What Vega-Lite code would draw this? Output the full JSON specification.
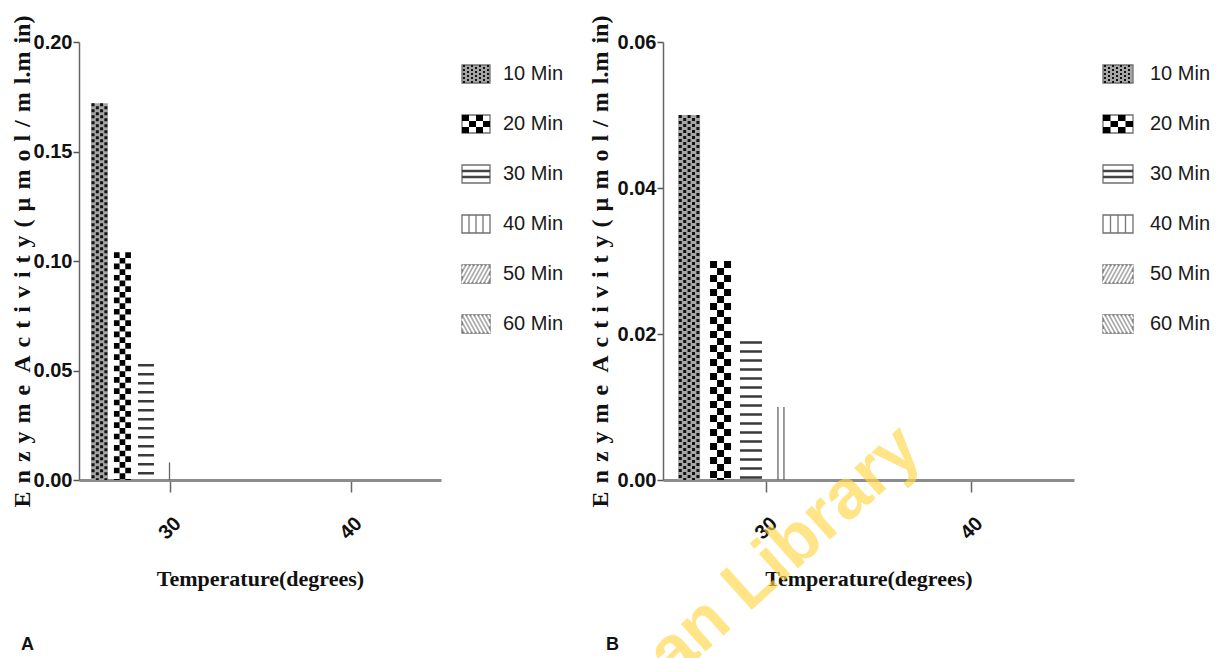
{
  "$schema": "https://vega.github.io/schema/vega-lite/v6.json",
  "background": "white",
  "padding": {"left": 10, "top": 15, "right": 0, "bottom": 0},
  "config": {"view": {"stroke": null}, "axis": {"zindex": 1}},
  "datasets": {
    "panelA": [
      {"time": "10 Min", "temperature": 26.13, "activity": 0.172},
      {"time": "20 Min", "temperature": 27.4, "activity": 0.104},
      {"time": "30 Min", "temperature": 28.7, "activity": 0.053},
      {"time": "40 Min", "temperature": 30.0, "activity": 0.008},
      {"time": "50 Min", "temperature": 31.3, "activity": 0},
      {"time": "60 Min", "temperature": 32.6, "activity": 0}
    ],
    "panelB": [
      {"time": "10 Min", "temperature": 26.27, "activity": 0.05},
      {"time": "20 Min", "temperature": 27.8, "activity": 0.03},
      {"time": "30 Min", "temperature": 29.28, "activity": 0.019},
      {"time": "40 Min", "temperature": 30.74, "activity": 0.01},
      {"time": "50 Min", "temperature": 32.2, "activity": 0},
      {"time": "60 Min", "temperature": 33.7, "activity": 0}
    ],
    "tagA": [{"tag": "A"}],
    "tagB": [{"tag": "B"}],
    "stamp": [{"words": "an Library"}]
  },
  "resolve": {"scale": {"x": "independent", "y": "independent"}},
  "spacing": 24,
  "hconcat": [
    {
      "spacing": 10,
      "resolve": {"scale": {"x": "independent", "y": "independent"}},
      "hconcat": [
        {
          "width": 362,
          "height": 438,
          "layer": [
            {
              "data": {"name": "panelA"},
              "encoding": {
                "x": {
                  "field": "temperature", "type": "quantitative", "title": "Temperature(degrees)",
                  "scale": {"domain": [25, 45], "nice": false, "zero": false},
                  "axis": {
                    "values": [30, 40], "format": "d", "grid": false,
                    "labelAngle": -45, "labelAlign": "center", "labelBaseline": "middle", "labelPadding": 36,
                    "labelFont": "Liberation Sans", "labelFontSize": 20, "labelFontWeight": "bold", "labelColor": "#111",
                    "tickSize": 12, "tickWidth": 1.5, "tickColor": "#666",
                    "domainColor": "#8c8c8c", "domainWidth": 3,
                    "titleFont": "Liberation Serif", "titleFontSize": 22, "titleFontWeight": "bold",
                    "titleColor": "#111", "titlePadding": 26
                  }
                },
                "y": {
                  "field": "activity", "type": "quantitative",
                  "title": "E\u2004n\u2004z\u2004y\u2004m\u2004e\u2002A\u2004c\u2004t\u2004i\u2004v\u2004i\u2004t\u2004y\u2004(\u2004µ\u2004m\u2004o\u2004l\u2004/\u2004m\u2004l.m\u2004in)",
                  "scale": {"domain": [0, 0.2], "nice": false},
                  "axis": {
                    "values": [0, 0.05, 0.1, 0.15, 0.2], "format": ".2f", "grid": false,
                    "labelFont": "Liberation Sans", "labelFontSize": 20, "labelFontWeight": "bold", "labelColor": "#111", "labelPadding": 1,
                    "tickSize": 6, "tickWidth": 1.5, "tickColor": "#555",
                    "domainColor": "#666", "domainWidth": 1.5,
                    "titleFont": "Liberation Serif", "titleFontSize": 24, "titleFontWeight": "bold",
                    "titleColor": "#111", "titlePadding": -1
                  }
                }
              },
              "layer": [
                {"transform": [{"filter": "datum.time === '10 Min'"}], "mark": {"type": "rule", "strokeWidth": 17, "stroke": "#a6a6a6"}, "encoding": {"y2": {"datum": 0}}},
                {"transform": [{"filter": "datum.time === '10 Min'"}], "mark": {"type": "rule", "strokeWidth": 3, "stroke": "#111", "strokeDash": [3, 3], "strokeDashOffset": 0, "xOffset": -6.4}, "encoding": {"y2": {"datum": 0}}},
                {"transform": [{"filter": "datum.time === '10 Min'"}], "mark": {"type": "rule", "strokeWidth": 3, "stroke": "#111", "strokeDash": [3, 3], "strokeDashOffset": 3, "xOffset": -2.13}, "encoding": {"y2": {"datum": 0}}},
                {"transform": [{"filter": "datum.time === '10 Min'"}], "mark": {"type": "rule", "strokeWidth": 3, "stroke": "#111", "strokeDash": [3, 3], "strokeDashOffset": 0, "xOffset": 2.13}, "encoding": {"y2": {"datum": 0}}},
                {"transform": [{"filter": "datum.time === '10 Min'"}], "mark": {"type": "rule", "strokeWidth": 3, "stroke": "#111", "strokeDash": [3, 3], "strokeDashOffset": 3, "xOffset": 6.4}, "encoding": {"y2": {"datum": 0}}},
                {"transform": [{"filter": "datum.time === '20 Min'"}], "mark": {"type": "rule", "strokeWidth": 5.67, "stroke": "#000", "strokeDash": [5.67, 5.67], "strokeDashOffset": 0, "xOffset": -5.67}, "encoding": {"y2": {"datum": 0}}},
                {"transform": [{"filter": "datum.time === '20 Min'"}], "mark": {"type": "rule", "strokeWidth": 5.67, "stroke": "#000", "strokeDash": [5.67, 5.67], "strokeDashOffset": 5.67, "xOffset": 0}, "encoding": {"y2": {"datum": 0}}},
                {"transform": [{"filter": "datum.time === '20 Min'"}], "mark": {"type": "rule", "strokeWidth": 5.67, "stroke": "#000", "strokeDash": [5.67, 5.67], "strokeDashOffset": 0, "xOffset": 5.67}, "encoding": {"y2": {"datum": 0}}},
                {"transform": [{"filter": "datum.time === '30 Min'"}], "mark": {"type": "rule", "strokeWidth": 16, "stroke": "#3a3a3a", "strokeDash": [2.5, 6.5]}, "encoding": {"y2": {"datum": 0}}},
                {"transform": [{"filter": "datum.time === '40 Min'"}], "mark": {"type": "rule", "strokeWidth": 1.3, "stroke": "#666"}, "encoding": {"y2": {"datum": 0}}}
              ]
            },
            {
              "data": {"name": "tagA"},
              "mark": {"type": "text", "align": "left", "baseline": "alphabetic", "font": "Liberation Sans", "fontSize": 18, "fontWeight": "bold", "fill": "#111"},
              "encoding": {
                "x": {"datum": 21.8, "type": "quantitative", "title": "Temperature(degrees)"},
                "y": {"datum": -0.0776, "type": "quantitative", "title": "E\u2004n\u2004z\u2004y\u2004m\u2004e\u2002A\u2004c\u2004t\u2004i\u2004v\u2004i\u2004t\u2004y\u2004(\u2004µ\u2004m\u2004o\u2004l\u2004/\u2004m\u2004l.m\u2004in)"},
                "text": {"field": "tag", "type": "nominal"}
              }
            }
          ]
        },
        {
          "width": 28,
          "height": 350,
          "data": {"name": "panelA"},
          "encoding": {"y": {"field": "time", "type": "nominal", "axis": null, "scale": {"padding": 1, "align": 0.32}}},
          "layer": [
            {"mark": {"type": "point", "shape": "M-1,-0.643H1V0.643H-1Z", "size": 784, "filled": true, "opacity": 1, "stroke": "#707070", "strokeWidth": 1.3},
             "encoding": {"fill": {"field": "time", "type": "nominal", "legend": null, "scale": {"range": ["#a6a6a6", "#ffffff", "#ffffff", "#ffffff", "#a9a9a9", "#a9a9a9"]}}}},
            {"transform": [{"filter": "datum.time === '10 Min'"}], "mark": {"type": "point", "shape": "M-0.857,-0.643V0.643M-0.571,-0.5V0.643M-0.286,-0.643V0.643M0,-0.5V0.643M0.286,-0.643V0.643M0.571,-0.5V0.643M0.857,-0.643V0.643", "size": 784, "filled": false, "opacity": 1, "stroke": "#111", "strokeWidth": 2, "strokeDash": [2, 2]}},
            {"transform": [{"filter": "datum.time === '20 Min'"}], "mark": {"type": "point", "shape": "M-0.75,-0.643V0.643M-0.25,-0.214V0.643M0.25,-0.643V0.643M0.75,-0.214V0.643", "size": 784, "filled": false, "opacity": 1, "stroke": "#000", "strokeWidth": 7, "strokeDash": [6, 6]}},
            {"transform": [{"filter": "datum.time === '30 Min'"}], "mark": {"type": "point", "shape": "M-1,-0.214H1M-1,0.214H1", "size": 784, "filled": false, "opacity": 1, "stroke": "#444", "strokeWidth": 2.5}},
            {"transform": [{"filter": "datum.time === '40 Min'"}], "mark": {"type": "point", "shape": "M-0.5,-0.643V0.643M0,-0.643V0.643M0.5,-0.643V0.643", "size": 784, "filled": false, "opacity": 1, "stroke": "#777", "strokeWidth": 1.3}},
            {"transform": [{"filter": "datum.time === '50 Min'"}], "mark": {"type": "point", "shape": "M-1,-0.386L-0.857,-0.643M-1,0.129L-0.571,-0.643M-1,0.643L-0.286,-0.643M-0.714,0.643L0,-0.643M-0.429,0.643L0.286,-0.643M-0.143,0.643L0.571,-0.643M0.143,0.643L0.857,-0.643M0.429,0.643L1,-0.386M0.714,0.643L1,0.129", "size": 784, "filled": false, "opacity": 1, "stroke": "#ffffff", "strokeWidth": 1.8}},
            {"transform": [{"filter": "datum.time === '60 Min'"}], "mark": {"type": "point", "shape": "M1,-0.386L0.857,-0.643M1,0.129L0.571,-0.643M1,0.643L0.286,-0.643M0.714,0.643L0,-0.643M0.429,0.643L-0.286,-0.643M0.143,0.643L-0.571,-0.643M-0.143,0.643L-0.857,-0.643M-0.429,0.643L-1,-0.386M-0.714,0.643L-1,0.129", "size": 784, "filled": false, "opacity": 1, "stroke": "#ffffff", "strokeWidth": 1.8}},
            {"mark": {"type": "text", "align": "left", "baseline": "middle", "dx": 27, "font": "Liberation Sans", "fontSize": 20, "fill": "#1a1a1a"},
             "encoding": {"text": {"field": "time", "type": "nominal"}}}
          ]
        }
      ]
    },
    {
      "spacing": 17,
      "resolve": {"scale": {"x": "independent", "y": "independent"}},
      "hconcat": [
        {
          "width": 411,
          "height": 438,
          "layer": [
            {
              "data": {"name": "stamp"},
              "mark": {"type": "text", "align": "left", "baseline": "alphabetic", "angle": -42, "font": "Liberation Sans", "fontSize": 70, "fontWeight": "bold", "fill": "#ffd84a", "opacity": 0.65},
              "encoding": {
                "x": {"datum": 25.49, "type": "quantitative", "title": "Temperature(degrees)"},
                "y": {"datum": -0.0275, "type": "quantitative", "title": "E\u2004n\u2004z\u2004y\u2004m\u2004e\u2002A\u2004c\u2004t\u2004i\u2004v\u2004i\u2004t\u2004y\u2004(\u2004µ\u2004m\u2004o\u2004l\u2004/\u2004m\u2004l.m\u2004in)"},
                "text": {"field": "words", "type": "nominal"}
              }
            },
            {
              "data": {"name": "panelB"},
              "encoding": {
                "x": {
                  "field": "temperature", "type": "quantitative", "title": "Temperature(degrees)",
                  "scale": {"domain": [25, 45], "nice": false, "zero": false},
                  "axis": {
                    "values": [30, 40], "format": "d", "grid": false,
                    "labelAngle": -45, "labelAlign": "center", "labelBaseline": "middle", "labelPadding": 36,
                    "labelFont": "Liberation Sans", "labelFontSize": 20, "labelFontWeight": "bold", "labelColor": "#111",
                    "tickSize": 12, "tickWidth": 1.5, "tickColor": "#666",
                    "domainColor": "#8c8c8c", "domainWidth": 3,
                    "titleFont": "Liberation Serif", "titleFontSize": 22, "titleFontWeight": "bold",
                    "titleColor": "#111", "titlePadding": 26
                  }
                },
                "y": {
                  "field": "activity", "type": "quantitative",
                  "title": "E\u2004n\u2004z\u2004y\u2004m\u2004e\u2002A\u2004c\u2004t\u2004i\u2004v\u2004i\u2004t\u2004y\u2004(\u2004µ\u2004m\u2004o\u2004l\u2004/\u2004m\u2004l.m\u2004in)",
                  "scale": {"domain": [0, 0.06], "nice": false},
                  "axis": {
                    "values": [0, 0.02, 0.04, 0.06], "format": ".2f", "grid": false,
                    "labelFont": "Liberation Sans", "labelFontSize": 20, "labelFontWeight": "bold", "labelColor": "#111", "labelPadding": 1,
                    "tickSize": 6, "tickWidth": 1.5, "tickColor": "#555",
                    "domainColor": "#666", "domainWidth": 1.5,
                    "titleFont": "Liberation Serif", "titleFontSize": 24, "titleFontWeight": "bold",
                    "titleColor": "#111", "titlePadding": 5
                  }
                }
              },
              "layer": [
                {"transform": [{"filter": "datum.time === '10 Min'"}], "mark": {"type": "rule", "strokeWidth": 22, "stroke": "#a6a6a6"}, "encoding": {"y2": {"datum": 0}}},
                {"transform": [{"filter": "datum.time === '10 Min'"}], "mark": {"type": "rule", "strokeWidth": 3, "stroke": "#111", "strokeDash": [3, 3], "strokeDashOffset": 0, "xOffset": -8.8}, "encoding": {"y2": {"datum": 0}}},
                {"transform": [{"filter": "datum.time === '10 Min'"}], "mark": {"type": "rule", "strokeWidth": 3, "stroke": "#111", "strokeDash": [3, 3], "strokeDashOffset": 3, "xOffset": -4.4}, "encoding": {"y2": {"datum": 0}}},
                {"transform": [{"filter": "datum.time === '10 Min'"}], "mark": {"type": "rule", "strokeWidth": 3, "stroke": "#111", "strokeDash": [3, 3], "strokeDashOffset": 0, "xOffset": 0}, "encoding": {"y2": {"datum": 0}}},
                {"transform": [{"filter": "datum.time === '10 Min'"}], "mark": {"type": "rule", "strokeWidth": 3, "stroke": "#111", "strokeDash": [3, 3], "strokeDashOffset": 3, "xOffset": 4.4}, "encoding": {"y2": {"datum": 0}}},
                {"transform": [{"filter": "datum.time === '10 Min'"}], "mark": {"type": "rule", "strokeWidth": 3, "stroke": "#111", "strokeDash": [3, 3], "strokeDashOffset": 0, "xOffset": 8.8}, "encoding": {"y2": {"datum": 0}}},
                {"transform": [{"filter": "datum.time === '20 Min'"}], "mark": {"type": "rule", "strokeWidth": 7, "stroke": "#000", "strokeDash": [7, 7], "strokeDashOffset": 0, "xOffset": -7}, "encoding": {"y2": {"datum": 0}}},
                {"transform": [{"filter": "datum.time === '20 Min'"}], "mark": {"type": "rule", "strokeWidth": 7, "stroke": "#000", "strokeDash": [7, 7], "strokeDashOffset": 7, "xOffset": 0}, "encoding": {"y2": {"datum": 0}}},
                {"transform": [{"filter": "datum.time === '20 Min'"}], "mark": {"type": "rule", "strokeWidth": 7, "stroke": "#000", "strokeDash": [7, 7], "strokeDashOffset": 0, "xOffset": 7}, "encoding": {"y2": {"datum": 0}}},
                {"transform": [{"filter": "datum.time === '30 Min'"}], "mark": {"type": "rule", "strokeWidth": 22, "stroke": "#3a3a3a", "strokeDash": [2.5, 6.5]}, "encoding": {"y2": {"datum": 0}}},
                {"transform": [{"filter": "datum.time === '40 Min'"}], "mark": {"type": "rule", "strokeWidth": 1.3, "stroke": "#666", "xOffset": -3}, "encoding": {"y2": {"datum": 0}}},
                {"transform": [{"filter": "datum.time === '40 Min'"}], "mark": {"type": "rule", "strokeWidth": 1.3, "stroke": "#666", "xOffset": 3}, "encoding": {"y2": {"datum": 0}}}
              ]
            },
            {
              "data": {"name": "tagB"},
              "mark": {"type": "text", "align": "left", "baseline": "alphabetic", "font": "Liberation Sans", "fontSize": 18, "fontWeight": "bold", "fill": "#111"},
              "encoding": {
                "x": {"datum": 22.23, "type": "quantitative", "title": "Temperature(degrees)"},
                "y": {"datum": -0.0233, "type": "quantitative", "title": "E\u2004n\u2004z\u2004y\u2004m\u2004e\u2002A\u2004c\u2004t\u2004i\u2004v\u2004i\u2004t\u2004y\u2004(\u2004µ\u2004m\u2004o\u2004l\u2004/\u2004m\u2004l.m\u2004in)"},
                "text": {"field": "tag", "type": "nominal"}
              }
            }
          ]
        },
        {
          "width": 30,
          "height": 350,
          "data": {"name": "panelB"},
          "encoding": {"y": {"field": "time", "type": "nominal", "axis": null, "scale": {"padding": 1, "align": 0.32}}},
          "layer": [
            {"mark": {"type": "point", "shape": "M-1,-0.6H1V0.6H-1Z", "size": 900, "filled": true, "opacity": 1, "stroke": "#707070", "strokeWidth": 1.3},
             "encoding": {"fill": {"field": "time", "type": "nominal", "legend": null, "scale": {"range": ["#a6a6a6", "#ffffff", "#ffffff", "#ffffff", "#a9a9a9", "#a9a9a9"]}}}},
            {"transform": [{"filter": "datum.time === '10 Min'"}], "mark": {"type": "point", "shape": "M-0.867,-0.6V0.6M-0.6,-0.467V0.6M-0.333,-0.6V0.6M-0.067,-0.467V0.6M0.2,-0.6V0.6M0.467,-0.467V0.6M0.733,-0.6V0.6", "size": 900, "filled": false, "opacity": 1, "stroke": "#111", "strokeWidth": 2, "strokeDash": [2, 2]}},
            {"transform": [{"filter": "datum.time === '20 Min'"}], "mark": {"type": "point", "shape": "M-0.75,-0.6V0.6M-0.25,-0.2V0.6M0.25,-0.6V0.6M0.75,-0.2V0.6", "size": 900, "filled": false, "opacity": 1, "stroke": "#000", "strokeWidth": 7.5, "strokeDash": [6, 6]}},
            {"transform": [{"filter": "datum.time === '30 Min'"}], "mark": {"type": "point", "shape": "M-1,-0.2H1M-1,0.2H1", "size": 900, "filled": false, "opacity": 1, "stroke": "#444", "strokeWidth": 2.5}},
            {"transform": [{"filter": "datum.time === '40 Min'"}], "mark": {"type": "point", "shape": "M-0.5,-0.6V0.6M0,-0.6V0.6M0.5,-0.6V0.6", "size": 900, "filled": false, "opacity": 1, "stroke": "#777", "strokeWidth": 1.3}},
            {"transform": [{"filter": "datum.time === '50 Min'"}], "mark": {"type": "point", "shape": "M-1,-0.36L-0.867,-0.6M-1,0.12L-0.6,-0.6M-1,0.6L-0.333,-0.6M-0.733,0.6L-0.067,-0.6M-0.467,0.6L0.2,-0.6M-0.2,0.6L0.467,-0.6M0.067,0.6L0.733,-0.6M0.333,0.6L1,-0.6M0.6,0.6L1,-0.12M0.867,0.6L1,0.36", "size": 900, "filled": false, "opacity": 1, "stroke": "#ffffff", "strokeWidth": 1.8}},
            {"transform": [{"filter": "datum.time === '60 Min'"}], "mark": {"type": "point", "shape": "M1,-0.36L0.867,-0.6M1,0.12L0.6,-0.6M1,0.6L0.333,-0.6M0.733,0.6L0.067,-0.6M0.467,0.6L-0.2,-0.6M0.2,0.6L-0.467,-0.6M-0.067,0.6L-0.733,-0.6M-0.333,0.6L-1,-0.6M-0.6,0.6L-1,-0.12M-0.867,0.6L-1,0.36", "size": 900, "filled": false, "opacity": 1, "stroke": "#ffffff", "strokeWidth": 1.8}},
            {"mark": {"type": "text", "align": "left", "baseline": "middle", "dx": 32, "font": "Liberation Sans", "fontSize": 20, "fill": "#1a1a1a"},
             "encoding": {"text": {"field": "time", "type": "nominal"}}}
          ]
        }
      ]
    }
  ]
}
